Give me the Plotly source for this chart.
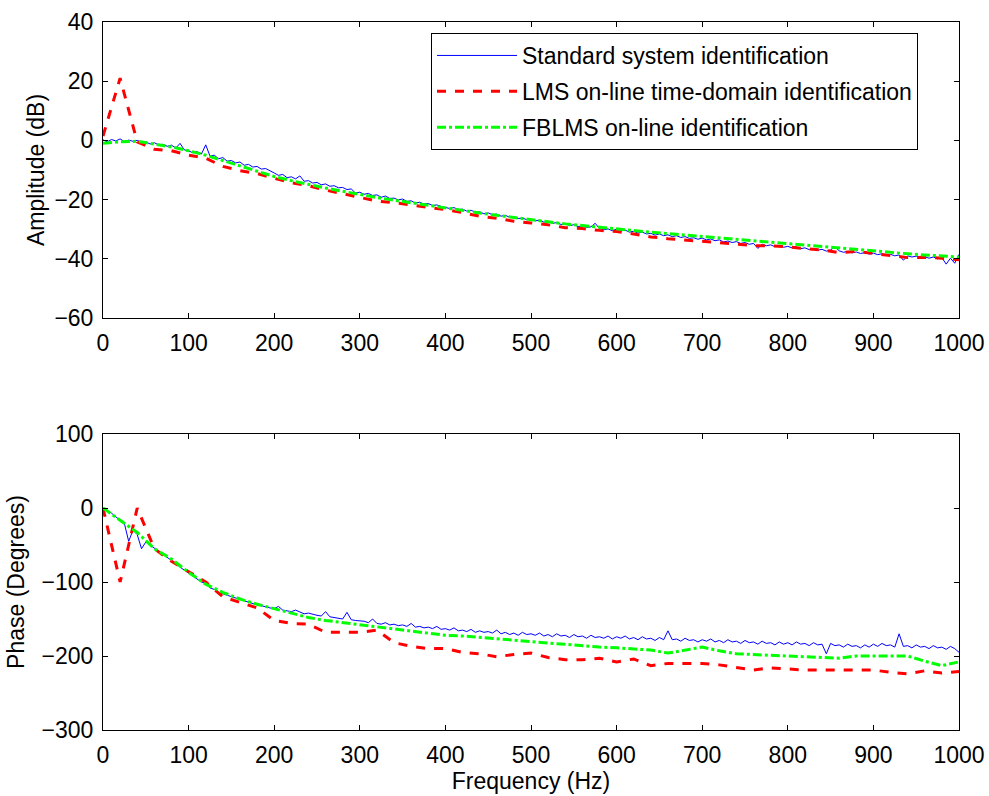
import plotly.graph_objects as go
from plotly.subplots import make_subplots

# ---------------- data ----------------
freq_coarse = list(range(0, 1001, 20))   # LMS / FBLMS estimate grid (Hz)
freq_fine = list(range(0, 1001, 5))      # standard identification grid (Hz)

std_amp = [
    0.2, -0.5, 0.3, -0.2, 0.5, -0.4, 0.1, -0.3, 0.0, -0.6, -0.5, -1.2, -0.8, -1.5, -1.3, -2.0, -1.6, -2.6, -1.0, -3.2,
    -3.5, -4.2, -3.8, -4.6, -1.5, -5.3, -5.0, -6.2, -5.8, -7.0, -6.8, -7.6, -7.3, -8.4, -8.1, -9.0, -8.8, -9.7, -9.5, -10.4,
    -11.0, -11.8, -11.5, -12.6, -12.3, -13.0, -12.0, -13.8, -13.6, -14.4, -14.2, -15.0, -14.7, -15.5, -15.3, -16.0, -15.9, -16.6, -16.4, -17.8,
    -17.5, -18.2, -17.9, -18.6, -18.4, -19.2, -18.8, -19.6, -19.5, -20.1, -19.8, -20.6, -20.4, -21.2, -20.9, -21.5, -21.3, -22.0, -21.8, -22.3,
    -22.6, -23.0, -22.7, -23.4, -23.2, -23.9, -23.6, -24.3, -24.1, -24.8, -24.5, -25.1, -24.9, -25.6, -25.3, -26.0, -25.8, -26.4, -26.2, -26.8,
    -26.7, -27.2, -26.9, -27.6, -27.4, -28.0, -27.8, -28.4, -28.1, -28.8, -28.5, -29.1, -28.9, -29.4, -29.2, -28.0, -29.8, -30.2, -29.9, -30.5,
    -30.0, -30.6, -30.3, -31.0, -30.7, -31.3, -31.0, -31.6, -31.4, -32.0, -31.6, -32.2, -31.9, -32.5, -32.2, -32.8, -32.5, -33.1, -32.9, -33.4,
    -33.0, -33.6, -33.3, -33.9, -33.6, -34.3, -34.0, -34.5, -34.2, -34.8, -34.5, -35.1, -34.8, -36.5, -35.1, -35.6, -35.3, -35.9, -35.6, -36.1,
    -35.8, -36.3, -36.0, -36.6, -36.3, -36.9, -36.6, -37.1, -36.8, -37.4, -37.0, -36.0, -37.3, -37.8, -37.5, -38.0, -37.7, -38.2, -37.9, -38.4,
    -38.1, -38.6, -38.3, -38.8, -38.5, -39.0, -38.7, -40.5, -39.0, -39.4, -39.1, -39.6, -39.3, -39.8, -39.4, -40.0, -39.6, -41.8, -39.8, -41.5,
    -38.5,
]

lms_amp = [
    1.5, 21.0, -0.5, -3.0, -3.5, -5.0, -6.0, -8.8, -10.2, -11.2,
    -12.8, -14.3, -15.3, -16.8, -18.0, -19.2, -20.5, -21.0, -21.8, -22.5,
    -23.4, -24.4, -25.6, -26.3, -27.3, -27.9, -28.5, -29.5, -29.8, -30.4,
    -30.8, -31.6, -32.6, -33.2, -33.6, -34.2, -34.5, -35.0, -35.6, -35.6,
    -35.9, -36.6, -37.0, -37.9, -37.5, -38.1, -38.9, -39.6, -39.5, -39.8,
    -40.3,
]

fblms_amp = [
    -1.0, -0.5, -0.3, -1.2, -2.2, -3.5, -5.0, -6.8, -8.6, -10.5,
    -12.2, -13.6, -14.9, -16.1, -17.2, -18.3, -19.3, -20.2, -21.1, -22.0,
    -22.9, -23.7, -24.5, -25.3, -26.1, -26.8, -27.5, -28.2, -28.8, -29.3,
    -29.8, -30.4, -31.0, -31.5, -32.0, -32.5, -33.0, -33.5, -34.0, -34.4,
    -34.9, -35.4, -35.9, -36.4, -36.9, -37.4, -37.8, -38.3, -38.7, -39.1,
    -39.4,
]

std_phase = [
    0, -3, -7, -12, -16, -21, -45, -30, -36, -55, -46, -50, -55, -59, -63, -67, -71, -75, -80, -84,
    -88, -93, -96, -100, -102, -108, -110, -114, -116, -118, -120, -122, -124, -126, -128, -129, -131, -132, -134, -135,
    -136, -133, -138, -139, -140, -138, -141, -143, -142, -144, -145, -146, -140, -147, -148, -149, -150, -141, -151, -152,
    -152, -153, -155, -150, -156, -157, -155, -158, -157, -159, -158, -160, -156, -161, -160, -162, -161, -163, -160, -164,
    -163, -165, -162, -166, -165, -167, -164, -168, -166, -168, -167, -169, -165, -170, -168, -171, -169, -172, -168, -171,
    -170, -172, -169, -173, -171, -174, -170, -173, -172, -175, -171, -174, -173, -176, -172, -175, -174, -176, -173, -177,
    -174, -176, -173, -177, -175, -178, -174, -177, -176, -179, -175, -178, -166, -178, -177, -180, -176, -179, -178, -181,
    -178, -180, -177, -181, -179, -182, -178, -181, -180, -183, -179, -182, -181, -184, -180, -183, -182, -185, -181, -184,
    -182, -185, -181, -184, -183, -186, -182, -185, -184, -197, -183, -186, -185, -188, -184, -187, -186, -189, -185, -188,
    -184, -187, -183, -186, -185, -188, -170, -187, -186, -189, -185, -188, -187, -190, -186, -189, -188, -191, -187, -190,
    -195,
]

lms_phase = [
    0, -100, 0, -55, -72, -86, -100, -120, -127, -135,
    -152, -156, -157, -168, -168, -168, -165, -182, -187, -190,
    -190, -195, -197, -201, -198, -196, -202, -205, -205, -203,
    -208, -204, -213, -210, -210, -210, -212, -215, -219, -216,
    -218, -219, -219, -219, -219, -219, -222, -224, -220, -223,
    -221,
]

fblms_phase = [
    0, -17, -33, -55, -69, -87, -103, -114, -123, -130,
    -136, -142, -148, -152, -155, -158, -161, -163, -166, -169,
    -172, -173, -175, -177, -179, -180, -182, -184, -186, -188,
    -189, -190, -192, -196, -192, -188, -193, -197, -198, -199,
    -200, -201, -202, -203, -200, -200, -200, -200, -207, -213,
    -208,
]

series_names = ["Standard system identification",
                "LMS on-line time-domain identification",
                "FBLMS on-line identification"]

amp_ticks = [-60, -40, -20, 0, 20, 40]
phase_ticks = [-300, -200, -100, 0, 100]
freq_ticks = list(range(0, 1001, 100))

# ---------------- figure ----------------
FONT = "Liberation Sans, Arial, sans-serif"
FS = 23
W, H = 989, 796
ml, mr, mt, mb = 103, 30, 22, 66
pw = W - ml - mr
ph = H - mt - mb
top_dom = [(730 - 318) / ph, 1.0]
bot_dom = [0.0, (730 - 434) / ph]

fig = make_subplots(rows=2, cols=1)

styles = [
    dict(color="#0000FF", width=1, dash="solid"),
    dict(color="#FF0000", width=3, dash="dash"),
    dict(color="#00FF00", width=3, dash="dashdot"),
]

data_top = [(freq_fine, std_amp), (freq_coarse, lms_amp), (freq_coarse, fblms_amp)]
data_bot = [(freq_fine, std_phase), (freq_coarse, lms_phase), (freq_coarse, fblms_phase)]

for i, (x, y) in enumerate(data_top):
    fig.add_trace(go.Scatter(x=x, y=y, mode="lines", name=series_names[i],
                             line=styles[i], legendgroup=f"g{i}"), row=1, col=1)
for i, (x, y) in enumerate(data_bot):
    fig.add_trace(go.Scatter(x=x, y=y, mode="lines", name=series_names[i],
                             line=styles[i], showlegend=False), row=2, col=1)

tfont = dict(family=FONT, size=FS, color="black")
axis_common = dict(
    showline=True, mirror="ticks", linecolor="black", linewidth=1,
    ticks="inside", ticklen=5, tickcolor="black", tickwidth=1,
    showgrid=False, zeroline=False,
    tickfont=tfont,
    ticklabelstandoff=4,
    automargin=False,
)

fig.update_xaxes(**axis_common, range=[0, 1000], tickvals=freq_ticks)
fig.update_xaxes(domain=[0, 1], row=1, col=1)
fig.update_xaxes(domain=[0, 1], row=2, col=1,
                 title=dict(text="Frequency (Hz)", font=tfont, standoff=4))

fig.update_yaxes(**axis_common)
fig.update_yaxes(domain=top_dom, range=[-60, 40], tickvals=amp_ticks, row=1, col=1,
                 title=dict(text="Amplitude (dB)", font=tfont, standoff=3))
fig.update_yaxes(domain=bot_dom, range=[-300, 100], tickvals=phase_ticks, row=2, col=1,
                 title=dict(text="Phase (Degrees)", font=tfont, standoff=10))

fig.update_layout(
    width=W, height=H,
    margin=dict(l=ml, r=mr, t=mt, b=mb, autoexpand=False),
    paper_bgcolor="white", plot_bgcolor="white",
    font=tfont,
    showlegend=True,
    legend=dict(
        x=(431 - ml) / pw, y=(730 - 33) / ph,
        xanchor="left", yanchor="top",
        bgcolor="white", bordercolor="black", borderwidth=1,
        font=tfont,
        itemwidth=80, tracegroupgap=3,
    ),
)

fig.write_html("out.html")
